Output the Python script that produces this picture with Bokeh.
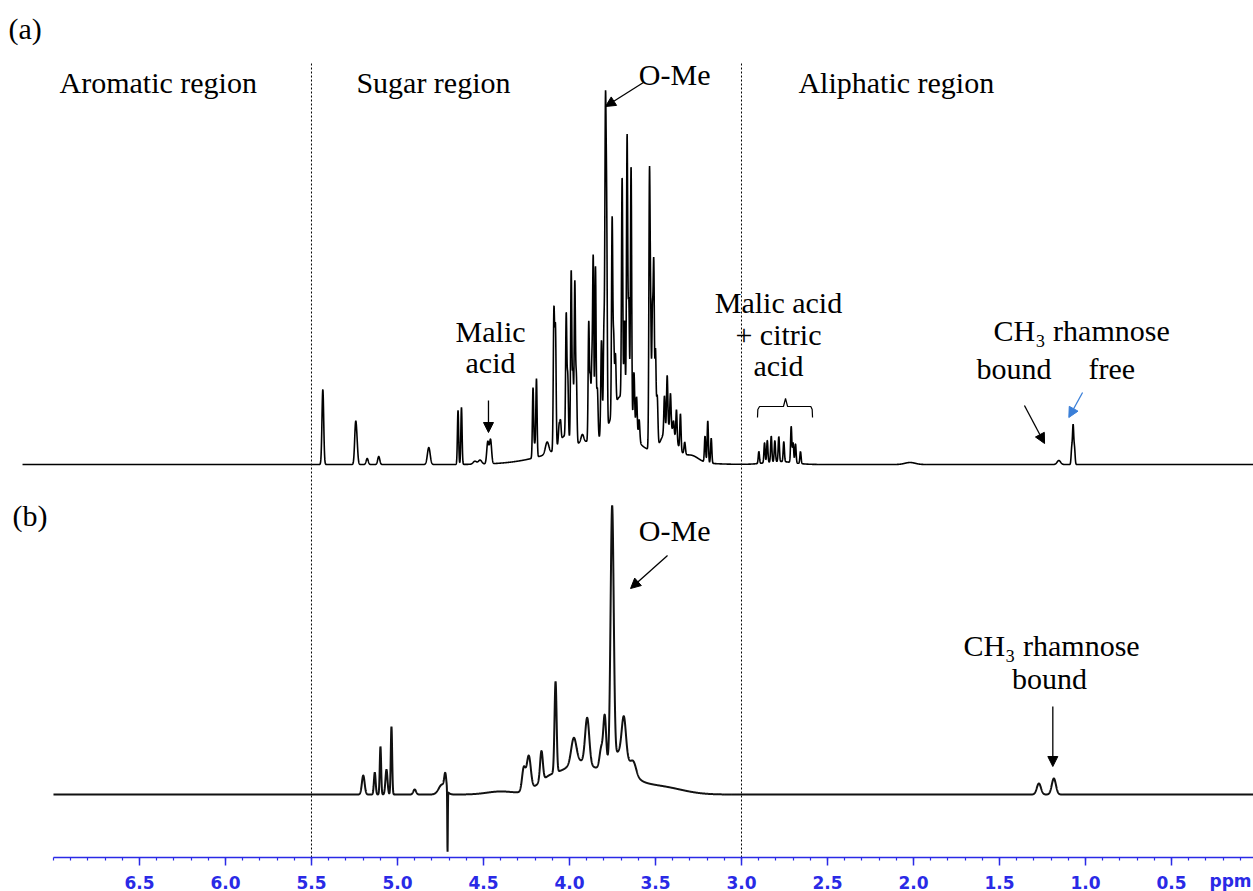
import numpy as np
from bokeh.plotting import figure
from bokeh.models import Range1d, FixedTicker, Label, Arrow, NormalHead
from bokeh.embed import file_html
from bokeh.resources import INLINE

# ---------------- data ----------------
# Spectrum (a): line positions (ppm), apparent heights, line widths (ppm)
a_shift = [5.434, 5.244, 5.236, 5.176, 5.109, 4.818, 4.648, 4.628, 4.550, 4.520,
           4.475, 4.459, 4.212, 4.202, 4.192, 4.130, 4.091, 4.086, 4.081, 4.060,
           4.052, 4.019, 4.010, 3.990, 3.980, 3.969, 3.960, 3.925, 3.888, 3.879,
           3.870, 3.862, 3.849, 3.838, 3.814, 3.800, 3.791, 3.784, 3.752, 3.743,
           3.733, 3.694, 3.680, 3.665, 3.655, 3.642, 3.625, 3.610, 3.595, 3.535,
           3.528, 3.518, 3.510, 3.500, 3.490, 3.448, 3.432, 3.413, 3.395, 3.378,
           3.355, 3.330, 3.212, 3.196, 3.176,
           2.899, 2.866, 2.850, 2.827, 2.806, 2.783, 2.754, 2.711, 2.700, 2.686, 2.657,
           2.020, 1.155, 1.080, 1.072, 1.064]
a_height = [75, 36, 18, 6, 8, 17, 54, 57, 3, 4,
            22, 24, 70, 12, 78, 12, 125, 40, 105, 18,
            18, 122, 60, 170, 70, 160, 65, 8, 118, 60,
            70, 180, 172, 50, 96, 100, 305, 200, 195, 70,
            50, 220, 80, 272, 110, 255, 58, 40, 22, 265,
            120, 130, 180, 95, 50, 36, 52, 34, 12, 31,
            36, 12, 26, 42, 25,
            12, 20, 22, 26, 21, 25, 20, 36, 20, 19, 12,
            2, 4, 16, 38, 16]
a_width = [0.005, 0.0055, 0.0055, 0.006, 0.006, 0.008, 0.0035, 0.0035, 0.01, 0.01,
           0.006, 0.006, 0.0035, 0.004, 0.0035, 0.010, 0.0035, 0.0035, 0.0035, 0.004,
           0.0035, 0.0035, 0.0035, 0.0035, 0.0035, 0.0035, 0.0035, 0.008, 0.0035, 0.0035,
           0.0035, 0.0035, 0.0035, 0.004, 0.004, 0.0035, 0.0035, 0.0035, 0.0035, 0.0035,
           0.0035, 0.0035, 0.0035, 0.0035, 0.0035, 0.0035, 0.004, 0.004, 0.004, 0.0035,
           0.0035, 0.0035, 0.0035, 0.0035, 0.004, 0.0035, 0.0035, 0.0035, 0.0035, 0.0035,
           0.0035, 0.004, 0.0035, 0.0035, 0.0035,
           0.0035, 0.0035, 0.0035, 0.0035, 0.0035, 0.0035, 0.0035, 0.0035, 0.0035, 0.0035, 0.0035,
           0.03, 0.010, 0.0035, 0.0035, 0.0035]
# broad underlying hump of (a)
a_env_shift = [3.80, 3.70, 4.03, 3.42, 3.29, 2.78]
a_env_height = [25, 45, 12, 30, 6, 3]
a_env_width = [0.25, 0.05, 0.03, 0.04, 0.04, 0.08]

# Spectrum (b)
b_shift = [5.199, 5.132, 5.099, 5.064, 5.035, 4.900, 4.740, 4.722, 4.709, 4.400,
           4.266, 4.237, 4.163, 4.081, 3.975, 3.897, 3.815, 3.795, 3.752, 3.684,
           3.627, 1.271, 1.184]
b_height = [19, 22, 48, 25, 68, 5, 10, 15, -62, 3,
            23, 34, 30, 91, 25, 46, 20, 49, 253, 38,
            10, 11, 16]
b_width = [0.008, 0.005, 0.004, 0.006, 0.004, 0.008, 0.02, 0.006, 0.0015, 0.08,
           0.010, 0.012, 0.008, 0.006, 0.015, 0.012, 0.010, 0.008, 0.009, 0.012,
           0.015, 0.012, 0.012]
b_env_shift = [3.80, 3.70, 4.10, 3.95, 3.45]
b_env_height = [24, 22, 16, 15, 6]
b_env_width = [0.16, 0.05, 0.08, 0.06, 0.12]

# vertical offsets (baselines) of the two stacked spectra
a_baseline = 393
b_baseline = 63

tick_values = [6.5, 6.0, 5.5, 5.0, 4.5, 4.0, 3.5, 3.0, 2.5, 2.0, 1.5, 1.0, 0.5]
tick_labels = ["6.5", "6.0", "5.5", "5.0", "4.5", "4.0", "3.5", "3.0", "2.5", "2.0", "1.5", "1.0", "0.5"]
minor_values = [round(0.1 * i, 1) for i in range(1, 71)]

region_bounds = [5.5, 3.0]

# ---------------- build traces ----------------
def spectrum(grid, shifts, heights, widths):
    y = np.zeros_like(grid)
    for c, h, w in zip(shifts, heights, widths):
        y += h * np.exp(-0.5 * ((grid - c) / w) ** 2)
    return y

a_grid = np.arange(7.18, 0.02, -0.0008)
b_grid = np.arange(7.00, 0.02, -0.0008)
a_y = a_baseline + spectrum(a_grid, a_shift, a_height, a_width) + spectrum(a_grid, a_env_shift, a_env_height, a_env_width)
b_y = b_baseline + spectrum(b_grid, b_shift, b_height, b_width) + spectrum(b_grid, b_env_shift, b_env_height, b_env_width)

BLUE = "#2a2ae6"
SERIF = "Liberation Serif"

p = figure(width=1253, height=891,
           x_range=Range1d(7.308, 0.0233), y_range=Range1d(-34, 857),
           output_backend="svg", toolbar_location=None, y_axis_location=None,
           min_border_left=0, min_border_right=0, min_border_top=0, min_border_bottom=0)
p.xgrid.visible = False
p.ygrid.visible = False
p.outline_line_color = None
p.background_fill_color = "white"

# region dividers
p.segment(x0=region_bounds, y0=[794, 794], x1=region_bounds, y1=[0, 0],
          line_color="black", line_width=1, line_dash="2 2")

p.line(a_grid, a_y, line_color="black", line_width=1.6)
p.line(b_grid, b_y, line_color="#111111", line_width=2.0)

# bracket over malic + citric acid
p.line([2.907, 2.905, 2.895, 2.756, 2.744, 2.732, 2.597, 2.589, 2.587],
       [440, 448, 451, 451, 459, 451, 451, 448, 440],
       line_color="black", line_width=1.2)

# x axis (drawn at intensity 0, so its labels sit inside the canvas)
ax = p.xaxis[0]
ax.fixed_location = 0
ax.ticker = FixedTicker(ticks=tick_values, minor_ticks=minor_values)
ax.major_label_overrides = {v: s for v, s in zip(tick_values, tick_labels)}
ax.bounds = (0.0, 7.0)
ax.axis_line_color = BLUE
ax.axis_line_width = 1.5
ax.major_tick_line_color = BLUE
ax.minor_tick_line_color = BLUE
ax.major_tick_line_width = 1.5
ax.minor_tick_line_width = 1.2
ax.major_tick_in = 0
ax.major_tick_out = 8
ax.minor_tick_in = 0
ax.minor_tick_out = 3
ax.major_label_standoff = 10
ax.major_label_text_font = "DejaVu Sans"
ax.major_label_text_font_style = "bold"
ax.major_label_text_font_size = "17px"
ax.major_label_text_color = BLUE

TXT = 10

def lab(x, y, text, align="left", size="30px", color="black", font=SERIF, style="normal", shift=TXT):
    p.add_layout(Label(x=x, y=y + shift, text=text, text_align=align, text_font=font,
                       text_font_size=size, text_color=color, text_baseline="alphabetic",
                       text_font_style=style))

lab(7.262, 819, "(a)")
lab(6.965, 765, "Aromatic region")
lab(5.239, 765, "Sugar region")
lab(2.669, 765, "Aliphatic region")
lab(3.597, 773, "O-Me")
lab(4.459, 516, "Malic", align="center")
lab(4.459, 485, "acid", align="center")
lab(2.785, 545, "Malic acid", align="center")
lab(2.785, 513, "+ citric", align="center")
lab(2.785, 482, "acid", align="center")
lab(1.535, 517, "CH\u2083 rhamnose")
lab(1.634, 479, "bound")
lab(0.983, 479, "free")
lab(7.238, 332, "(b)")
lab(3.597, 317, "O-Me")
lab(1.710, 202, "CH\u2083 rhamnose")
lab(1.209, 169, "bound", align="center")
lab(0.279, -29, "ppm", font="DejaVu Sans", size="17px", color=BLUE, style="bold", shift=6)

def arrow(x0, y0, x1, y1, color="black"):
    p.add_layout(Arrow(end=NormalHead(size=10, fill_color=color, line_color=color, line_width=1),
                       x_start=x0, y_start=y0, x_end=x1, y_end=y1,
                       line_color=color, line_width=1.3))

arrow(3.570, 775, 3.791, 751)
arrow(4.471, 457, 4.471, 425)
arrow(1.355, 452, 1.238, 414)
arrow(1.017, 465, 1.097, 440, color="#3a7fd8")
arrow(3.430, 302, 3.645, 269)
arrow(1.190, 151, 1.190, 91)

open("out.html", "w").write(file_html(p, INLINE))
